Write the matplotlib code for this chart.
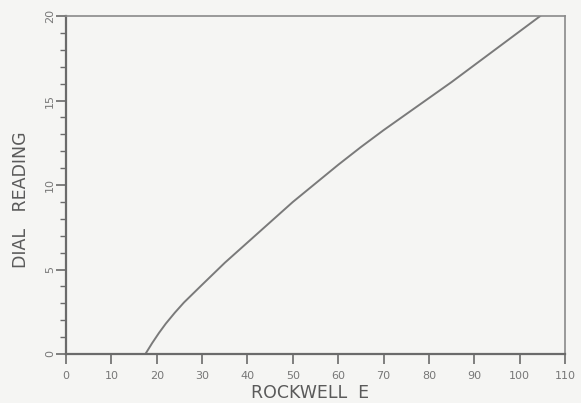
import numpy as np
import matplotlib.pyplot as plt
from matplotlib.ticker import MultipleLocator

# Dial reading vs Rockwell E
rockwell_e = [17.5, 19, 20.5, 22, 24, 26, 30, 35, 40, 45, 50, 55, 60, 65,
              70, 75, 80, 85, 90, 95, 100, 104.5]
dial_reading = [0, 0.65, 1.25, 1.8, 2.45, 3.05, 4.1, 5.4, 6.6, 7.8, 9.0,
                10.1, 11.2, 12.25, 13.25, 14.2, 15.15, 16.1, 17.1, 18.1,
                19.1, 20.0]

x_ticks = [0, 10, 20, 30, 40, 50, 60, 70, 80, 90, 100, 110]
y_ticks = [0, 5, 10, 15, 20]

grey = "#6a6a6a"
bg = "#f5f5f3"

fig = plt.figure(figsize=(5.81, 4.03), dpi=100, facecolor=bg)
ax = fig.add_axes([0.1136, 0.1216, 0.859, 0.8384], facecolor=bg)

ax.plot(rockwell_e, dial_reading, color="#7a7a7a", lw=1.4)

ax.set_xlim(0, 110)
ax.set_ylim(0, 20)
ax.set_xticks(x_ticks)
ax.set_yticks(y_ticks)
ax.yaxis.set_minor_locator(MultipleLocator(1))

for s in ax.spines.values():
    s.set_color("#8a8a8a")
    s.set_linewidth(1.2)
ax.spines["left"].set_color(grey)
ax.spines["left"].set_linewidth(1.6)
ax.spines["bottom"].set_color(grey)
ax.spines["bottom"].set_linewidth(1.6)

ax.tick_params(axis="both", which="major", direction="out", length=7,
               width=1.2, color=grey, labelcolor="#777777", labelsize=8)
ax.tick_params(axis="y", which="minor", direction="out", length=4,
               width=1.0, color=grey)
ax.tick_params(axis="y", pad=1)
ax.tick_params(axis="x", pad=5)
for lbl in ax.get_yticklabels():
    lbl.set_rotation(90)
    lbl.set_va("center")

ax.set_xlabel("ROCKWELL  E", color="#5a5a5a", fontsize=12.5, va="center")
ax.set_ylabel("DIAL   READING", color="#5a5a5a", fontsize=12.5, va="center")
ax.xaxis.set_label_coords(0.489, -0.115)
ax.yaxis.set_label_coords(-0.09, 0.456)

fig.savefig("out.png", dpi=100, facecolor=bg)
